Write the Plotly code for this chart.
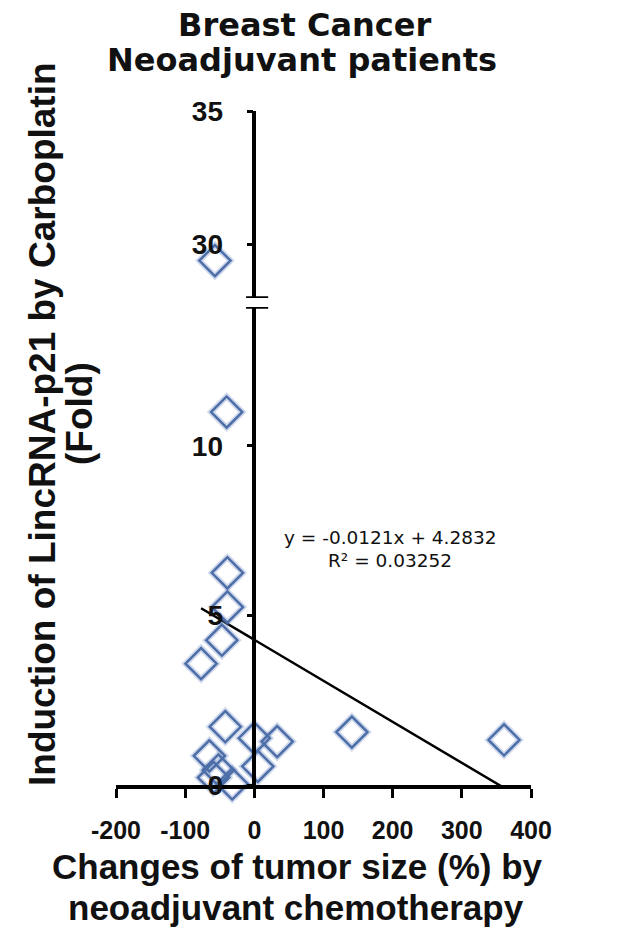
import numpy as np
import plotly.graph_objects as go

# ---- data ----
tumor_change = [-57, -40, -39, -39, -47, -77, -42, 0, 33, 141, 361, -65, 5, -52, -59, -32]
lincrna_fold = [29.4, 11.0, 6.26, 5.25, 4.27, 3.58, 1.72, 1.38, 1.28, 1.56, 1.33, 0.86, 0.55, 0.44, 0.22, 0.03]
x_ticks = [-200, -100, 0, 100, 200, 300, 400]
x_tick_labels = ["-200", "-100", "0", "100", "200", "300", "400"]
y_ticks_low = [0, 5, 10]
y_ticks_high = [30, 35]
trend_slope = -0.0121
trend_intercept = 4.2832
r_squared = 0.03252
break_low = 14.1   # top of lower y segment
break_high = 28.0  # bottom of upper y segment

W, H = 626, 941
ML, MR, MT, MB = 116, 95, 111, 156
plot_h = H - MT - MB
low_top = (785 - 307) / plot_h
high_bot = (785 - 298) / plot_h

xa = np.array(tumor_change, float)
ya = np.array(lincrna_fold, float)
low_mask = ya <= break_low
high_mask = ~low_mask

TICKFONT = "Liberation Sans, Arial, sans-serif"
MCOL = "#4d6ea8"
GLOW = "rgba(110,140,195,0.33)"

fig = go.Figure()

# trend line (Excel style), spanning the data range
tx = np.array([xa.min(), xa.max()])
fig.add_trace(go.Scatter(x=tx, y=trend_slope * tx + trend_intercept, mode="lines",
                         line=dict(color="black", width=2.5), xaxis="x", yaxis="y",
                         showlegend=False, hoverinfo="skip"))

for mask, yax in ((low_mask, "y"), (high_mask, "y2")):
    fig.add_trace(go.Scatter(x=xa[mask], y=ya[mask], mode="markers", xaxis="x", yaxis=yax,
                             marker=dict(symbol="diamond-open", size=24, color=GLOW,
                                         line=dict(width=6, color=GLOW)),
                             cliponaxis=False, showlegend=False, hoverinfo="skip"))
    fig.add_trace(go.Scatter(x=xa[mask], y=ya[mask], mode="markers", xaxis="x", yaxis=yax,
                             marker=dict(symbol="diamond-open", size=24, color=MCOL,
                                         line=dict(width=2.5, color=MCOL)),
                             cliponaxis=False, showlegend=False))

axis_common = dict(showline=True, linewidth=3.5, linecolor="black", showgrid=False,
                   zeroline=False, ticks="outside", tickwidth=3, tickcolor="black")

yaxis_pos = (0 - x_ticks[0]) / (x_ticks[-1] - x_ticks[0])

fig.update_layout(
    width=W, height=H,
    margin=dict(l=ML, r=MR, t=MT, b=MB),
    paper_bgcolor="white", plot_bgcolor="white",
    showlegend=False,
    xaxis=dict(domain=[0, 1], range=[x_ticks[0], x_ticks[-1]], tickvals=x_ticks,
               ticktext=x_tick_labels,
               anchor="y", ticklen=9, ticklabelstandoff=11,
               tickfont=dict(family=TICKFONT, size=25, color="#111", weight="bold"),
               **axis_common),
    yaxis=dict(domain=[0, low_top], range=[0, break_low], tickvals=y_ticks_low,
               anchor="free", position=yaxis_pos,
               ticklen=6, ticklabelstandoff=18,
               tickfont=dict(family=TICKFONT, size=28, color="#111", weight="bold"),
               **axis_common),
    yaxis2=dict(domain=[high_bot, 1], range=[break_high, 35], tickvals=y_ticks_high,
                anchor="free", position=yaxis_pos,
                ticklen=6, ticklabelstandoff=18,
                tickfont=dict(family=TICKFONT, size=28, color="#111", weight="bold"),
                **axis_common),
)

# axis break marks
for yv, yr in ((break_low, "y"), (break_high, "y2")):
    fig.add_shape(type="line", xref="x", yref=yr, x0=-12, x1=20, y0=yv, y1=yv,
                  line=dict(color="black", width=3.5), layer="above")

def px_x(p):
    return (p - ML) / (W - ML - MR)

def px_y(p):
    return (785 - p) / plot_h

TITLEFONT = "DejaVu Sans, sans-serif"
ann = []
ann.append(dict(text="Breast Cancer", x=px_x(304), y=px_y(25), xref="paper", yref="paper",
                showarrow=False, xanchor="center", yanchor="middle",
                font=dict(family=TITLEFONT, size=32, color="#111", weight="bold")))
ann.append(dict(text="Neoadjuvant patients", x=px_x(302), y=px_y(60), xref="paper", yref="paper",
                showarrow=False, xanchor="center", yanchor="middle",
                font=dict(family=TITLEFONT, size=32, color="#111", weight="bold")))
ann.append(dict(text="Induction of LincRNA-p21 by Carboplatin", x=px_x(42), y=px_y(424),
                xref="paper", yref="paper", showarrow=False, textangle=-90,
                xanchor="center", yanchor="middle",
                font=dict(family=TICKFONT, size=37, color="#111", weight="bold")))
ann.append(dict(text="(Fold)", x=px_x(79), y=px_y(414),
                xref="paper", yref="paper", showarrow=False, textangle=-90,
                xanchor="center", yanchor="middle",
                font=dict(family=TICKFONT, size=37, color="#111", weight="bold")))
ann.append(dict(text="Changes of tumor size (%) by", x=px_x(297), y=px_y(866),
                xref="paper", yref="paper", showarrow=False, xanchor="center", yanchor="middle",
                font=dict(family=TICKFONT, size=35, color="#111", weight="bold")))
ann.append(dict(text="neoadjuvant chemotherapy", x=px_x(296), y=px_y(907),
                xref="paper", yref="paper", showarrow=False, xanchor="center", yanchor="middle",
                font=dict(family=TICKFONT, size=35, color="#111", weight="bold")))
ann.append(dict(text=f"y = {trend_slope:.4f}x + {trend_intercept:.4f}", x=px_x(390), y=px_y(537),
                xref="paper", yref="paper", showarrow=False, xanchor="center", yanchor="middle",
                font=dict(family=TITLEFONT, size=18.5, color="#111")))
ann.append(dict(text=f"R² = {r_squared:.5f}", x=px_x(390), y=px_y(560),
                xref="paper", yref="paper", showarrow=False, xanchor="center", yanchor="middle",
                font=dict(family=TITLEFONT, size=18.5, color="#111")))
fig.update_layout(annotations=ann)

fig.write_html("out.html", config={"displayModeBar": False},
               post_script="document.body.style.margin='0';document.body.style.padding='0';")
